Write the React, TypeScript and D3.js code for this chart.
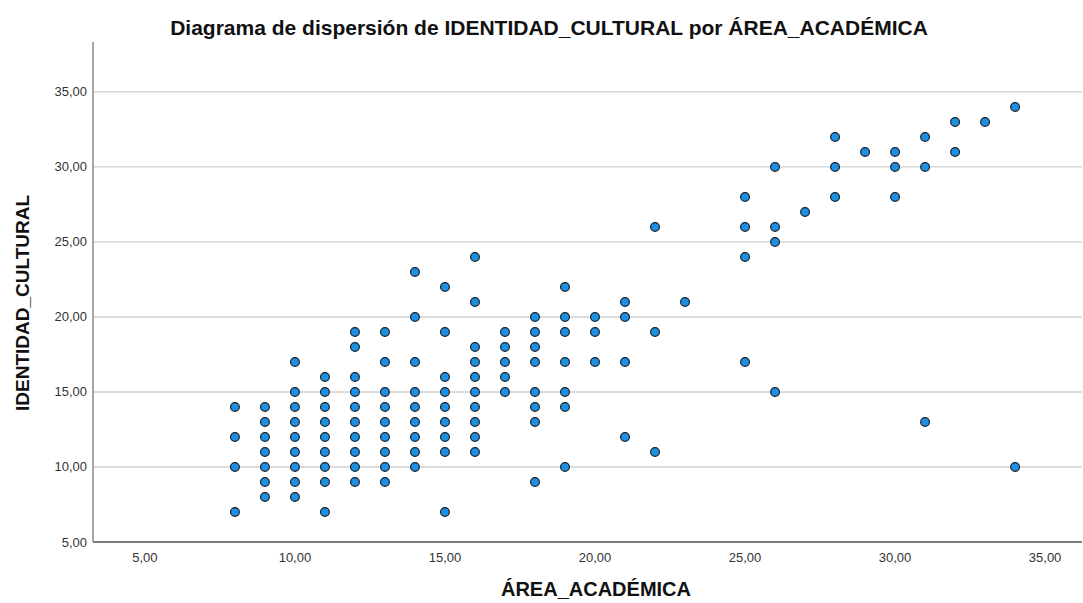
import React, { useEffect, useRef } from 'react';
import * as d3 from 'd3';

// ÁREA_ACADÉMICA values (x) and the IDENTIDAD_CULTURAL values seen at each one
const areaAcademica = [8, 9, 10, 11, 12, 13, 14, 15, 16, 17, 18, 19, 20, 21, 22, 23, 25, 26, 27, 28, 29, 30, 31, 32, 33, 34];
const identidadCultural = [
    [14, 12, 10, 7],
    [14, 13, 12, 11, 10, 9, 8],
    [17, 15, 14, 13, 12, 11, 10, 9, 8],
    [16, 15, 14, 13, 12, 11, 10, 9, 7],
    [19, 18, 16, 15, 14, 13, 12, 11, 10, 9],
    [19, 17, 15, 14, 13, 12, 11, 10, 9],
    [23, 20, 17, 15, 14, 13, 12, 11, 10],
    [22, 19, 16, 15, 14, 13, 12, 11, 7],
    [24, 21, 18, 17, 16, 15, 14, 13, 12, 11],
    [19, 18, 17, 16, 15],
    [20, 19, 18, 17, 15, 14, 13, 9],
    [22, 20, 19, 17, 15, 14, 10],
    [20, 19, 17],
    [21, 20, 17, 12],
    [26, 19, 11],
    [21],
    [28, 26, 24, 17],
    [30, 26, 25, 15],
    [27],
    [32, 30, 28],
    [31],
    [31, 30, 28],
    [32, 30, 13],
    [33, 31],
    [33],
    [34, 10],
];

const xTicks = [5, 10, 15, 20, 25, 30, 35];
const yTicks = [5, 10, 15, 20, 25, 30, 35];

const title = 'Diagrama de dispersión de IDENTIDAD_CULTURAL por ÁREA_ACADÉMICA';
const xTitle = 'ÁREA_ACADÉMICA';
const yTitle = 'IDENTIDAD_CULTURAL';

const width = 1083;
const height = 603;

const fmt = (v: number) => v.toFixed(2).replace('.', ',');

const ScatterChart: React.FC = () => {
    const svgRef = useRef<SVGSVGElement>(null);

    useEffect(() => {
        if (!svgRef.current) return;
        const svg = d3.select(svgRef.current);
        svg.selectAll('*').remove();

        const left = 93;
        const right = 1082;
        const top = 42;
        const bottom = 542;

        const xScale = d3.scaleLinear().domain([3.27, 36.23]).range([left, right]);
        const yScale = d3.scaleLinear().domain([5, 38.33]).range([bottom, top]);

        const points: [number, number][] = [];
        areaAcademica.forEach((x, i) => {
            identidadCultural[i].forEach((y) => points.push([x, y]));
        });

        // horizontal grid lines
        svg.append('g')
            .selectAll('line')
            .data(yTicks.filter((t) => t > 5))
            .join('line')
            .attr('x1', left)
            .attr('x2', right)
            .attr('y1', (d) => yScale(d))
            .attr('y2', (d) => yScale(d))
            .attr('stroke', '#cfcfcf')
            .attr('stroke-width', 1.3);

        // axes lines
        svg.append('line')
            .attr('x1', left).attr('x2', left)
            .attr('y1', top).attr('y2', bottom)
            .attr('stroke', '#8a8a8a').attr('stroke-width', 1.5);
        svg.append('line')
            .attr('x1', left).attr('x2', right)
            .attr('y1', bottom).attr('y2', bottom)
            .attr('stroke', '#7a7a7a').attr('stroke-width', 1.8);

        const labelFont = 'Arial, "Liberation Sans", sans-serif';

        svg.append('g')
            .selectAll('text')
            .data(yTicks)
            .join('text')
            .attr('x', left - 6)
            .attr('y', (d) => yScale(d) + 4.5)
            .attr('text-anchor', 'end')
            .attr('font-family', labelFont)
            .attr('font-size', 13)
            .attr('fill', '#333')
            .text((d) => fmt(d));

        svg.append('g')
            .selectAll('text')
            .data(xTicks)
            .join('text')
            .attr('x', (d) => xScale(d))
            .attr('y', bottom + 20)
            .attr('text-anchor', 'middle')
            .attr('font-family', labelFont)
            .attr('font-size', 13)
            .attr('fill', '#333')
            .text((d) => fmt(d));

        // points
        svg.append('g')
            .selectAll('circle')
            .data(points)
            .join('circle')
            .attr('cx', (d) => xScale(d[0]))
            .attr('cy', (d) => yScale(d[1]))
            .attr('r', 4.4)
            .attr('fill', '#1e8fe1')
            .attr('stroke', '#18222c')
            .attr('stroke-width', 1.2);

        svg.append('text')
            .attr('x', 549)
            .attr('y', 35)
            .attr('text-anchor', 'middle')
            .attr('font-family', labelFont)
            .attr('font-weight', 'bold')
            .attr('font-size', 21)
            .attr('fill', '#111')
            .text(title);

        svg.append('text')
            .attr('x', 596)
            .attr('y', 596)
            .attr('text-anchor', 'middle')
            .attr('font-family', labelFont)
            .attr('font-weight', 'bold')
            .attr('font-size', 20)
            .attr('fill', '#111')
            .text(xTitle);

        svg.append('text')
            .attr('transform', `translate(29, 303) rotate(-90)`)
            .attr('text-anchor', 'middle')
            .attr('font-family', labelFont)
            .attr('font-weight', 'bold')
            .attr('font-size', 19)
            .attr('fill', '#111')
            .text(yTitle);
    }, []);

    return (
        <svg
            ref={svgRef}
            width={width}
            height={height}
            style={{ position: 'absolute', left: 0, top: 0, background: '#fff' }}
        ></svg>
    );
};

export default function App() {
    return <ScatterChart />;
}
